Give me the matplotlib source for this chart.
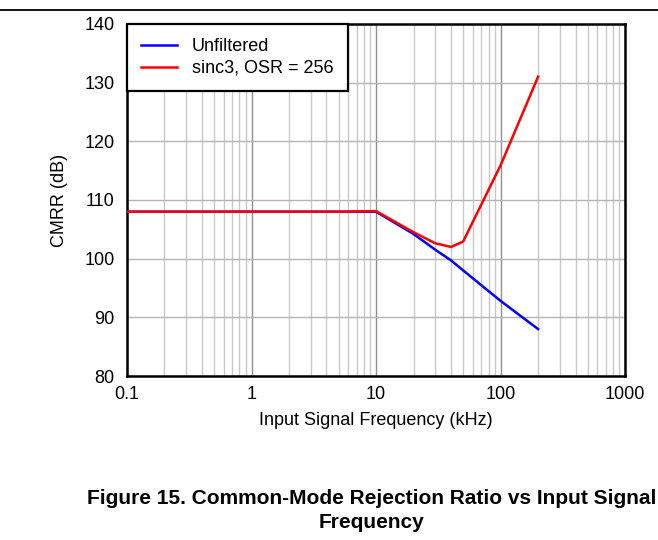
import matplotlib
matplotlib.use("Agg")
import matplotlib.pyplot as plt
from matplotlib.ticker import FixedLocator, NullFormatter, LogLocator

plt.rcParams["font.family"] = ["Liberation Sans", "DejaVu Sans"]

# --- data (kHz, dB) ---
freq_unf = [0.1, 1, 5, 10, 20, 30, 40, 50, 100, 200]
cmrr_unf = [108, 108, 108, 108, 104.2, 101.5, 99.7, 98.0, 92.8, 88.0]

freq_sinc = [0.1, 1, 5, 10, 20, 30, 40, 50, 100, 200]
cmrr_sinc = [108, 108, 108, 108.1, 104.5, 102.6, 102.0, 102.9, 115.9, 131.0]

x_ticks = [0.1, 1, 10, 100, 1000]
x_ticklabels = ["0.1", "1", "10", "100", "1000"]
y_ticks = [80, 90, 100, 110, 120, 130, 140]

FS = 13

fig = plt.figure(figsize=(6.58, 5.40), dpi=100)
ax = fig.add_axes([0.193, 0.3037, 0.757, 0.652])

ax.plot(freq_unf, cmrr_unf, color="#0000ff", lw=1.8, label="Unfiltered", zorder=3)
ax.plot(freq_sinc, cmrr_sinc, color="#ff0000", lw=1.8, label="sinc3, OSR = 256", zorder=4)

ax.set_xscale("log")
ax.set_xlim(0.1, 1000)
ax.set_ylim(80, 140)
ax.xaxis.set_major_locator(FixedLocator(x_ticks))
ax.set_xticklabels(x_ticklabels)
ax.xaxis.set_minor_locator(LogLocator(base=10, subs=range(2, 10)))
ax.xaxis.set_minor_formatter(NullFormatter())
ax.set_yticks(y_ticks)

ax.grid(which="major", axis="x", color="#909090", lw=1.0)
ax.grid(which="minor", axis="x", color="#c8c8c8", lw=1.0)
ax.grid(which="major", axis="y", color="#b4b4b4", lw=1.0)
ax.set_axisbelow(True)

ax.tick_params(which="both", length=0, labelsize=FS, colors="black")
ax.tick_params(axis="x", pad=7)
ax.tick_params(axis="y", pad=9)
for s in ax.spines.values():
    s.set_linewidth(1.8)
    s.set_color("black")

ax.set_xlabel("Input Signal Frequency (kHz)", fontsize=FS, labelpad=7)
ax.set_ylabel("CMRR (dB)", fontsize=FS, labelpad=12)

leg = ax.legend(loc="upper left", fontsize=FS, frameon=True, fancybox=False,
                borderaxespad=0, handlelength=1.95, borderpad=0.8,
                labelspacing=0.25, handletextpad=0.85)
leg.get_frame().set_edgecolor("black")
leg.get_frame().set_linewidth(1.6)
leg.get_frame().set_alpha(1)

# top rule and caption
fig.add_artist(plt.Line2D([0, 1], [1 - 10 / 540, 1 - 10 / 540], color="black", lw=1.3,
                          transform=fig.transFigure))
fig.text(372 / 658, 1 - 498 / 540, "Figure 15. Common-Mode Rejection Ratio vs Input Signal",
         ha="center", va="center", fontsize=15, fontweight="bold")
fig.text(372 / 658, 1 - 523 / 540, "Frequency",
         ha="center", va="center", fontsize=15, fontweight="bold")

fig.savefig("out.png", dpi=100)
